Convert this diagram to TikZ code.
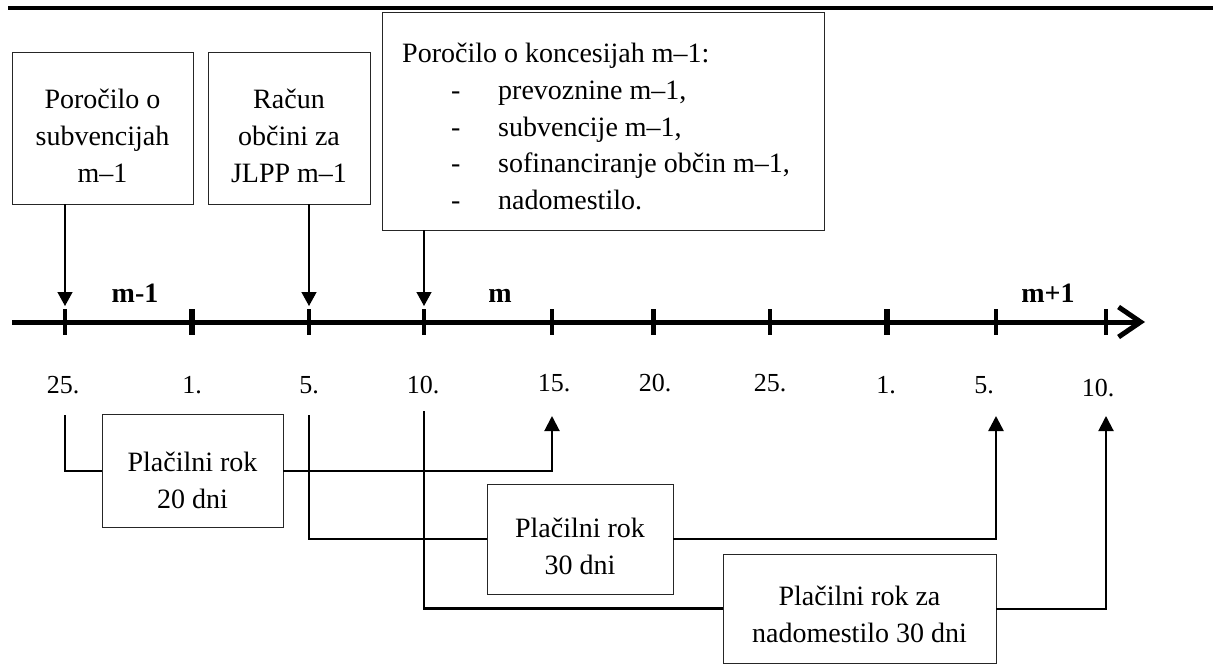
\documentclass[tikz,border=0pt]{standalone}
\usepackage{fontspec}
\setmainfont{Liberation Serif}
\usetikzlibrary{arrows.meta}
\begin{document}
\begin{tikzpicture}[x=1pt,y=-1pt,
  box/.style={draw=black!85, line width=0.9pt, inner sep=0pt, fill=white},
  txt/.style={align=center, inner sep=0pt, font=\fontsize{28}{37}\selectfont},
  ltxt/.style={anchor=base west, inner sep=0pt, font=\fontsize{28}{37}\selectfont},
  day/.style={anchor=base, inner sep=0pt, font=\fontsize{26}{30}\selectfont},
  mon/.style={anchor=base, inner sep=0pt, font=\bfseries\fontsize{28}{30}\selectfont},
  thinln/.style={line width=2pt},
  thickln/.style={line width=2.6pt},
  down/.style={line width=1.3pt, -{Triangle[length=14pt,width=15pt]}},
  upthin/.style={line width=2pt, -{Triangle[length=15pt,width=15pt]}},
  upthick/.style={line width=2.6pt, -{Triangle[length=15pt,width=15pt]}},
]
\useasboundingbox (0,0) rectangle (1213,671);
% top rule
\draw[line width=3.5pt] (8,8) -- (1213,8);

% axis
\coordinate (a0) at (12,322);
\coordinate (aend) at (1145,322);
\draw[line width=5pt, -{Straight Barb[length=22pt,width=30pt]}] (a0) -- (aend);

% ticks
\foreach \x/\n/\w in {65/t1/3.5, 192/t2/6, 309/t3/3.5, 424/t4/4, 552/t5/4, 653/t6/5, 770/t7/4, 887/t8/6.5, 996/t9/4.5, 1106/t10/4}{
  \coordinate (\n) at (\x,322);
  \draw[line width=\w pt] (\x,309) -- (\x,335);
}

% month labels
\node[mon] (m1) at (135,302) {m-1};
\node[mon] (m2) at (500,302) {m};
\node[mon] (m3) at (1048,302) {m+1};

% day labels
\node[day] (d1) at (63,393) {25.};
\node[day] (d2) at (192,393) {1.};
\node[day] (d3) at (309,393) {5.};
\node[day] (d4) at (423,393) {10.};
\node[day] (d5) at (554,391) {15.};
\node[day] (d6) at (655,391) {20.};
\node[day] (d7) at (770,391) {25.};
\node[day] (d8) at (886,393) {1.};
\node[day] (d9) at (984,393) {5.};
\node[day] (d10) at (1098,396) {10.};

% top boxes
\node[box, minimum width=181pt, minimum height=152pt] (b1) at (102.5,128) {};
\node[txt] (b1t) at (102.5,136) {Poročilo o\\subvencijah\\m–1};
\node[box, minimum width=162pt, minimum height=152pt] (b2) at (289,128) {};
\node[txt] (b2t) at (289,136) {Račun\\občini za\\JLPP m–1};
\node[box, minimum width=442pt, minimum height=218pt] (b3) at (603,121) {};
\node[ltxt] (b3a) at (402,63) {Poročilo o koncesijah m–1:};
\node[ltxt] (b3b1) at (451,100) {-};
\node[ltxt] (b3b2) at (498,100) {prevoznine m–1,};
\node[ltxt] (b3c1) at (451,137) {-};
\node[ltxt] (b3c2) at (498,137) {subvencije m–1,};
\node[ltxt] (b3d1) at (451,173) {-};
\node[ltxt] (b3d2) at (498,173) {sofinanciranje občin m–1,};
\node[ltxt] (b3e1) at (451,210) {-};
\node[ltxt] (b3e2) at (498,210) {nadomestilo.};

% down arrows
\draw[down] (b1.south -| t1) -- ([yshift=16pt]t1);
\draw[down] (b2.south -| t3) -- ([yshift=16pt]t3);
\draw[down] (b3.south -| t4) -- ([yshift=16pt]t4);

% bottom boxes
\node[box, minimum width=181pt, minimum height=113pt] (p20) at (192.5,470.5) {};
\node[txt] (p20t) at (192.5,480) {Plačilni rok\\20 dni};
\node[box, minimum width=186pt, minimum height=110pt] (p30) at (580,539) {};
\node[txt] (p30t) at (580,546) {Plačilni rok\\30 dni};
\node[box, minimum width=273pt, minimum height=109pt] (pn) at (859.5,608.5) {};
\node[txt] (pnt) at (859.5,614) {Plačilni rok za\\nadomestilo 30 dni};

% bottom connectors
\coordinate (s1) at (65,415);
\coordinate (s2) at (309,415);
\coordinate (s3) at (424,411);
\coordinate (e1) at (552,416);
\coordinate (e2) at (996,416);
\coordinate (e3) at (1106,416);
\draw[thinln] (s1) |- (p20.west);
\draw[upthin] (p20.east) -| (e1);
\draw[thickln] (s2) |- (p30.west);
\draw[upthick] (p30.east) -| (e2);
\draw[thickln] (s3) |- (pn.west);
\draw[upthin] (pn.east) -| (e3);
\end{tikzpicture}
\end{document}
